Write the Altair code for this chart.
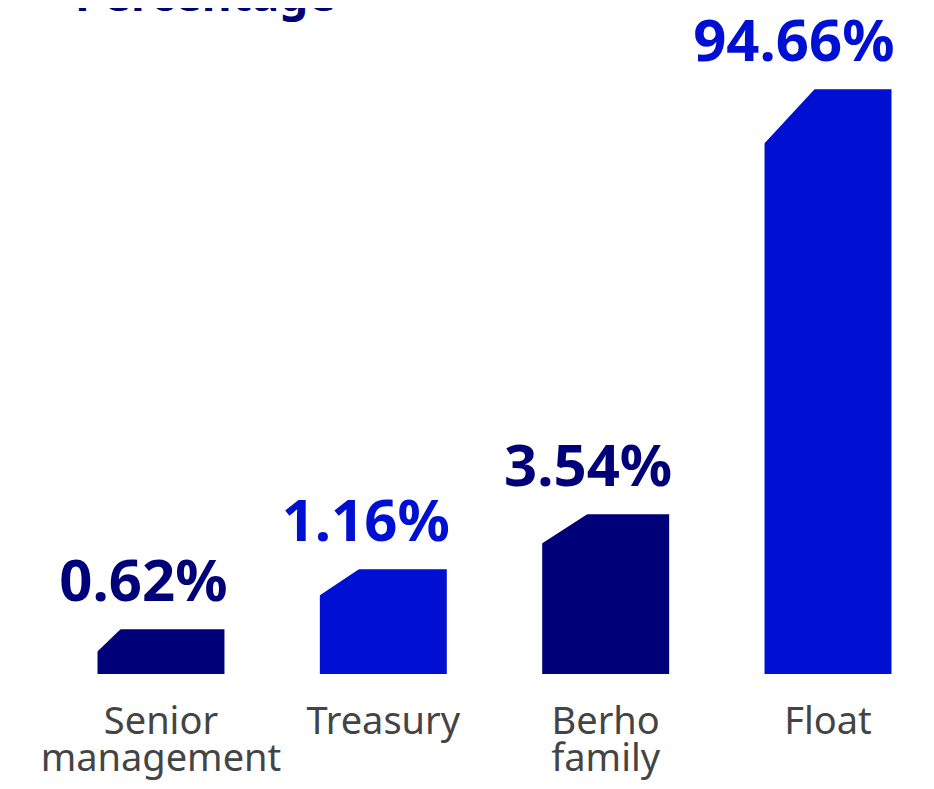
import altair as alt
import pandas as pd

# ---- data ----
categories = ["Senior management", "Treasury", "Berho family", "Float"]
values = [0.62, 1.16, 3.54, 94.66]
title_text = "Percentage"

# ---- styles ----
NAVY = "#000078"
BLUE = "#0010D2"
bar_colors = [NAVY, BLUE, NAVY, BLUE]
# stylised (non-proportional) bar heights in px used for the piecewise scale
bar_heights = [44.7, 104.7, 159.7, 584.7]
chamfers = [(23, 22), (39, 26), (45, 29), (50, 54)]

W = 794
H = 584.7
PI = 0.429
step = W / (4 - PI)
half = step * (1 - PI) / 2
UNIT = 100.0  # px per symbol unit -> size = (2*UNIT)^2
SIZE = (2 * UNIT) ** 2


def tri(dx, dy, e=3.0):
    L = -half
    T = 0.0
    pts = [(L - e, T - e), (L + dx + e * dx / dy, T - e), (L - e, T + dy + e * dy / dx)]
    s = " L ".join(f"{x / UNIT:.4f} {y / UNIT:.4f}" for x, y in pts)
    return "M " + s + " Z"


paths = [tri(dx, dy) for dx, dy in chamfers]

df = pd.DataFrame({"cat": categories, "value": values})

x_enc = alt.X(
    "cat:N",
    sort=categories,
    scale=alt.Scale(paddingInner=PI, paddingOuter=0),
    axis=alt.Axis(
        title=None,
        domain=False,
        ticks=False,
        labelAngle=0,
        labelFont="Noto Sans",
        labelFontSize=38,
        labelColor="#444444",
        labelPadding=29,
        labelLineHeight=37,
        labelLimit=400,
        labelOverlap=False,
        labelExpr="split(datum.label, ' ')",
    ),
)
y_enc = alt.Y(
    "value:Q",
    scale=alt.Scale(domain=[0] + values, range=[H] + [H - h for h in bar_heights]),
    axis=None,
)
color_enc = alt.Color(
    "cat:N", scale=alt.Scale(domain=categories, range=bar_colors), legend=None
)

base = alt.Chart(df)

bars = base.mark_bar().encode(x=x_enc, y=y_enc, color=color_enc)

corners = base.mark_point(
    filled=True, color="white", opacity=1, strokeWidth=0, size=SIZE
).encode(
    x=x_enc,
    y=y_enc,
    shape=alt.Shape("cat:N", scale=alt.Scale(domain=categories, range=paths), legend=None),
)

labels = base.transform_calculate(
    lab="format(datum.value, '.2f') + '%'"
).mark_text(
    align="right", baseline="alphabetic", dx=half + 3, dy=-28,
    font="Noto Sans", fontWeight="bold", fontSize=58,
).encode(x=x_enc, y=y_enc, text="lab:N", color=color_enc)

title = alt.Chart(pd.DataFrame({"t": [title_text]})).mark_text(
    align="left", baseline="alphabetic", font="Noto Sans", fontWeight="bold",
    fontSize=46, color=NAVY,
).encode(text="t:N", x=alt.value(75 - 97.5), y=alt.value(11 - 89.3))

chart = alt.layer(bars, corners, labels, title).properties(
    width=W, height=H,
    autosize=alt.AutoSizeParams(type="none"),
    padding={"left": 89.5, "top": 81.3, "right": 20, "bottom": 107},
).configure_view(stroke=None)

chart.save("out.html", embed_options={"renderer": "svg", "actions": False})
